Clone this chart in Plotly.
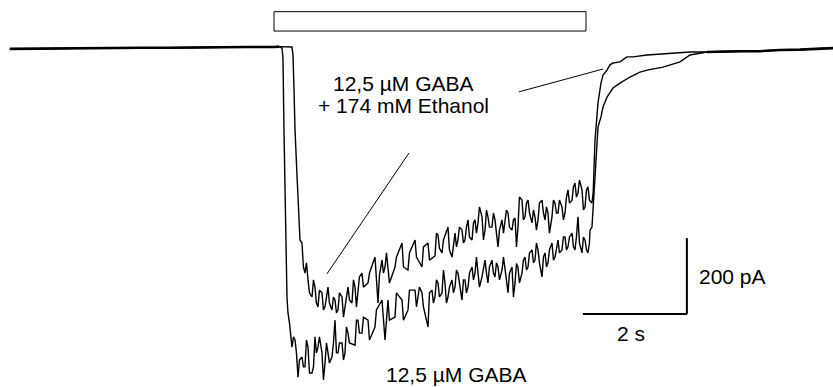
import plotly.graph_objects as go

# ---- data (time in s, current in pA; 0 pA = holding baseline) ----
base_pre_t = [-5.08, -4.5, -4.0, -3.5, -3.0, -2.5, -2.0, -1.5, -1.0, -0.5, 0.0, 0.1]
base_pre_i = [-5, -4, -4, -3, -3, -2, -2, -1, -1, 0, 0, 1]

post_t = [8.327, 8.577, 8.962, 9.346, 9.731, 10.115, 10.5, 10.75]
post_i = [-13, -12, -11, -11, -8, -7, -4, -3]

# 12,5 uM GABA alone
g_fall_t = [0.154, 0.173, 0.192, 0.212, 0.231, 0.250]
g_fall_i = [-3, -30, -220, -410, -570, -660]
g_t = [0.269, 0.346, 0.404, 0.462, 0.538, 0.596, 0.654, 0.731, 0.788, 0.846,
       0.923, 0.981, 1.038, 1.115, 1.173, 1.231, 1.308, 1.365, 1.423, 1.558,
       1.615, 1.692, 1.808, 1.942, 2.077, 2.135, 2.192, 2.327, 2.462, 2.577,
       2.712, 2.769, 2.846, 2.962, 3.038, 3.096, 3.154, 3.231, 3.288, 3.346,
       3.423, 3.481, 3.538, 3.615, 3.673, 3.731, 3.808, 3.865, 3.923, 4.000,
       4.058, 4.115, 4.192, 4.250, 4.308, 4.385, 4.442, 4.500, 4.577, 4.635,
       4.692, 4.769, 4.827, 4.885, 4.962, 5.019, 5.077, 5.154, 5.212, 5.269,
       5.346, 5.404, 5.462, 5.538, 5.596, 5.654, 5.731, 5.788, 5.846, 5.923,
       5.981, 6.038]
g_top = [-700, -763, -771, -824, -816, -771, -790, -842, -763, -763,
         -805, -779, -805, -779, -719, -779, -779, -737, -753, -719,
         -719, -711, -719, -692, -666, -719, -666, -647, -666, -640,
         -640, -632, -647, -647, -640, -613, -621, -587, -621, -632,
         -613, -587, -595, -613, -613, -595, -579, -553, -587, -579,
         -561, -579, -561, -568, -579, -553, -579, -595, -579, -570,
         -580, -561, -553, -542, -534, -516, -534, -553, -542, -534,
         -516, -526, -508, -500, -500, -500, -490, -500, -447, -500,
         -508, -516]
g_bot = [-726, -790, -805, -869, -842, -842, -858, -858, -805, -790,
         -876, -832, -832, -816, -805, -805, -824, -805, -779, -785,
         -753, -753, -771, -737, -726, -771, -719, -711, -719, -692,
         -684, -658, -684, -737, -674, -658, -658, -647, -674, -658,
         -647, -632, -621, -666, -647, -632, -613, -595, -632, -605,
         -595, -621, -595, -605, -613, -587, -613, -647, -658, -621,
         -621, -595, -587, -579, -568, -561, -568, -605, -579, -568,
         -561, -553, -542, -534, -534, -526, -526, -534, -516, -542,
         -534, -542]
g_rise_t = [6.077, 6.115, 6.154, 6.192, 6.231, 6.288, 6.327, 6.404, 6.519,
            6.654, 6.846, 7.038, 7.173, 7.481, 7.808, 8.000, 8.192, 8.327]
g_rise_i = [-482, -474, -384, -297, -211, -184, -158, -132, -108,
            -95, -79, -66, -61, -53, -39, -21, -16, -13]

# 12,5 uM GABA + 174 mM Ethanol
e_fall_t = [0.346, 0.365, 0.385, 0.404, 0.442, 0.481, 0.500]
e_fall_i = [0, -21, -113, -218, -337, -442, -508]
e_t = [0.538, 0.596, 0.654, 0.731, 0.788, 0.846, 0.923, 0.981, 1.038, 1.115,
       1.173, 1.231, 1.308, 1.365, 1.423, 1.500, 1.558, 1.615, 1.692, 1.808,
       1.942, 2.000, 2.077, 2.135, 2.192, 2.327, 2.462, 2.577, 2.712, 2.846,
       2.962, 3.096, 3.154, 3.231, 3.346, 3.423, 3.481, 3.538, 3.615, 3.673,
       3.731, 3.808, 3.865, 3.923, 4.000, 4.058, 4.115, 4.192, 4.250, 4.308,
       4.385, 4.442, 4.500, 4.577, 4.635, 4.692, 4.769, 4.827, 4.885, 4.962,
       5.019, 5.077, 5.154, 5.212, 5.269, 5.346, 5.404, 5.462, 5.538, 5.596,
       5.654, 5.731, 5.788, 5.846, 5.923, 5.981, 6.038, 6.115]
e_top = [-516, -568, -613, -613, -632, -640, -647, -658, -632, -658,
         -666, -647, -658, -647, -632, -613, -632, -605, -595, -595,
         -553, -600, -561, -542, -579, -553, -516, -542, -508, -526,
         -516, -490, -495, -508, -474, -516, -490, -474, -482, -474,
         -455, -463, -455, -421, -447, -429, -447, -437, -455, -482,
         -455, -429, -437, -455, -450, -395, -403, -411, -403, -429,
         -447, -411, -403, -421, -437, -403, -411, -403, -421, -395,
         -376, -368, -358, -350, -376, -376, -368, -376]
e_bot = [-579, -595, -647, -658, -674, -684, -692, -684, -674, -692,
         -700, -692, -711, -684, -666, -674, -684, -647, -632, -621,
         -613, -674, -595, -579, -621, -579, -579, -587, -553, -579,
         -561, -550, -530, -542, -534, -553, -526, -508, -516, -508,
         -500, -508, -490, -463, -508, -482, -474, -474, -490, -526,
         -490, -463, -474, -482, -526, -474, -455, -447, -437, -463,
         -482, -455, -437, -455, -490, -447, -437, -437, -455, -437,
         -411, -403, -395, -384, -429, -421, -403, -411]
e_rise_t = [6.135, 6.173, 6.212, 6.231, 6.288, 6.327, 6.404, 6.462, 6.519,
            6.654, 6.788, 6.904, 7.173, 7.481, 7.808, 8.000, 8.327]
e_rise_i = [-395, -245, -166, -147, -95, -74, -61, -47, -42,
            -39, -26, -26, -21, -18, -16, -13, -13]

# application bar (s) and scale bars
app_on, app_off = 0.0, 6.0
bar_lo, bar_hi = 42, 93
sb_t0, sb_t1 = 5.94, 7.94      # 2 s
sb_i0, sb_i1 = -703, -503      # 200 pA


def build(fall_t, fall_i, nt, top, bot, rise_t, rise_i):
    xs = list(base_pre_t) + list(fall_t)
    ys = list(base_pre_i) + list(fall_i)
    for k, (t, a, b) in enumerate(zip(nt, top, bot)):
        if k % 2 == 0:
            xs += [t, t + 0.028]
            ys += [a, b]
        else:
            xs += [t, t + 0.028]
            ys += [b, a]
    xs += list(rise_t) + list(post_t)
    ys += list(rise_i) + list(post_i)
    return xs, ys


gx, gy = build(g_fall_t, g_fall_i, g_t, g_top, g_bot, g_rise_t, g_rise_i)
ex, ey = build(e_fall_t, e_fall_i, e_t, e_top, e_bot, e_rise_t, e_rise_i)

fig = go.Figure()
line = dict(color="black", width=1.4)
fig.add_trace(go.Scatter(x=gx, y=gy, mode="lines", line=line, hoverinfo="skip"))
fig.add_trace(go.Scatter(x=ex, y=ey, mode="lines", line=line, hoverinfo="skip"))
# thicker noisy baselines
fig.add_trace(go.Scatter(x=base_pre_t, y=base_pre_i, mode="lines",
                         line=dict(color="black", width=2.6), hoverinfo="skip"))
fig.add_trace(go.Scatter(x=post_t, y=post_i, mode="lines",
                         line=dict(color="black", width=2.6), hoverinfo="skip"))

shapes = [
    dict(type="rect", x0=app_on, x1=app_off, y0=bar_lo, y1=bar_hi,
         line=dict(color="black", width=1), fillcolor="white"),
    dict(type="line", x0=sb_t0, x1=sb_t1, y0=sb_i0, y1=sb_i0,
         line=dict(color="black", width=2)),
    dict(type="line", x0=sb_t1, x1=sb_t1, y0=sb_i0, y1=sb_i1,
         line=dict(color="black", width=2)),
    dict(type="line", x0=4.712, x1=6.327, y0=-118, y1=-58,
         line=dict(color="black", width=1)),
    dict(type="line", x0=1.019, x1=2.596, y0=-597, y1=-279,
         line=dict(color="black", width=1)),
]

font = dict(family="Liberation Sans, Arial, sans-serif", size=21, color="black")
annotations = [
    dict(x=2.481, y=-95, text="12,5 µM GABA", showarrow=False, font=font,
         xanchor="center", yanchor="middle"),
    dict(x=2.481, y=-155, text="+ 174 mM Ethanol", showarrow=False, font=font,
         xanchor="center", yanchor="middle"),
    dict(x=3.5, y=-863, text="12,5 µM GABA", showarrow=False, font=font,
         xanchor="center", yanchor="middle"),
    dict(x=6.865, y=-755, text="2 s", showarrow=False, font=font,
         xanchor="center", yanchor="middle"),
    dict(x=8.135, y=-605, text="200 pA", showarrow=False, font=font,
         xanchor="left", yanchor="middle"),
]

fig.update_layout(
    width=833, height=387,
    margin=dict(l=0, r=0, t=0, b=0),
    paper_bgcolor="white", plot_bgcolor="white",
    showlegend=False,
    shapes=shapes, annotations=annotations,
    xaxis=dict(range=[-5.2692, 10.75], visible=False, fixedrange=True),
    yaxis=dict(range=[-894.9, 123.7], visible=False, fixedrange=True),
)

fig.write_html(
    "out.html",
    config={"displayModeBar": False},
    post_script="document.body.style.margin='0';document.body.style.overflow='hidden';",
)
